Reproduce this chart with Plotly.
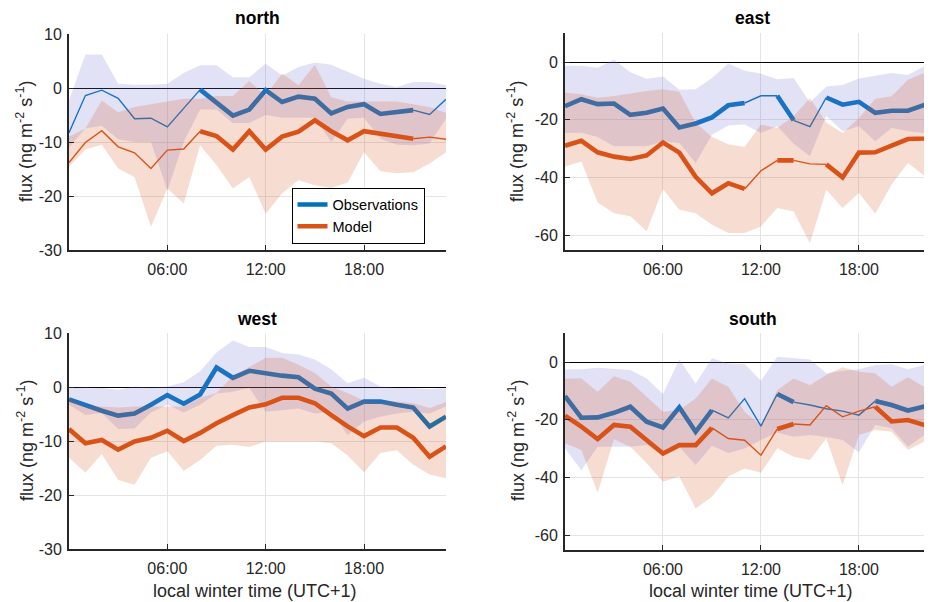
import plotly.graph_objects as go

hours = list(range(24))
tick_hours = [6, 12, 18]
tick_labels = ["06:00", "12:00", "18:00"]

# ---------------- north ----------------
north_obs = [-8.3, -1.4, -0.4, -1.9, -5.7, -5.6, -7.2, -3.8, -0.3, -2.7, -5.1, -4.0,
             -0.4, -2.6, -1.6, -2.0, -4.7, -3.5, -3.0, -4.8, -4.5, -4.1, -4.9, -2.1]
north_obs_hi = [-2.3, 6.2, 6.2, 0.8, 0.6, 0.6, 0.8, 2.8, 4.2, 4.2, 2.0, 2.0,
                4.5, 2.3, 3.9, 4.7, 4.3, 3.0, 1.7, 0.8, 0.2, 1.1, 1.1, 0.5]
north_obs_lo = [-11.0, -7.5, -7.0, -9.5, -10.0, -10.0, -19.0, -10.0, -4.0, -4.0, -6.5, -6.5,
                -5.0, -5.5, -5.5, -5.5, -10.0, -5.7, -5.5, -9.4, -10.5, -10.6, -10.3, -5.7]
north_mod = [-13.8, -10.1, -7.9, -10.9, -12.0, -14.9, -11.5, -11.3, -8.0, -8.9, -11.4, -8.0,
             -11.4, -9.0, -8.1, -6.0, -8.0, -9.7, -8.0, -8.5, -9.1, -9.4, -9.1, -9.5]
north_mod_hi = [-9.0, -7.5, -2.3, -4.5, -3.5, -3.0, -2.5, -2.0, -2.0, -1.5, -1.5, 1.3,
                -1.4, 2.7, 0.5, 4.3, -1.7, -2.5, -2.5, -2.5, -2.5, -3.0, -3.5, -4.6]
north_mod_lo = [-14.6, -11.4, -10.5, -14.9, -16.5, -25.7, -18.6, -21.4, -10.6, -14.3, -18.6, -16.5,
                -23.3, -19.5, -17.1, -18.0, -18.5, -17.5, -11.9, -15.4, -15.8, -15.6, -14.0, -11.9]
north_obs_bold = [0] * 8 + [1] * 13 + [0] * 2
north_mod_bold = [0] * 8 + [1] * 13 + [0] * 2

# ---------------- east ----------------
east_obs = [-15.3, -12.9, -14.6, -14.4, -18.3, -17.6, -16.1, -22.7, -21.3, -19.2, -15.0, -14.2,
            -11.7, -11.7, -20.2, -22.4, -12.3, -14.8, -13.8, -17.6, -16.9, -16.9, -14.9, -14.4]
east_obs_hi = [-1.3, -1.3, -2.0, 0.8, -3.5, -5.8, -5.0, -9.6, -9.4, -5.5, -0.5, -3.0,
               -4.0, -6.0, -5.5, -14.0, -8.5, -8.0, -5.7, -4.8, -3.8, -4.5, -1.5, -0.8]
east_obs_lo = [-24.6, -24.5, -26.0, -29.2, -29.2, -29.2, -27.5, -28.1, -35.0, -25.2, -22.0, -21.7,
               -24.6, -22.3, -28.3, -32.7, -18.6, -24.0, -22.3, -27.5, -22.9, -24.0, -24.6, -24.0]
east_mod = [-29.0, -27.3, -31.3, -32.8, -33.6, -32.4, -27.9, -31.4, -39.8, -45.5, -42.0, -44.0,
            -37.7, -34.1, -34.1, -35.3, -35.5, -40.0, -31.4, -31.3, -29.0, -26.7, -26.5, -25.6]
east_mod_hi = [-10.6, -11.2, -12.4, -11.8, -10.9, -10.0, -9.4, -10.3, -21.0, -26.0, -28.5, -29.5,
               -21.7, -22.9, -18.8, -12.5, -21.0, -24.6, -19.4, -12.7, -11.9, -6.1, -3.8, -3.0]
east_mod_lo = [-36.2, -34.5, -48.7, -52.4, -53.5, -58.7, -44.0, -51.2, -52.4, -56.4, -59.3, -59.3,
               -57.0, -50.6, -51.8, -62.8, -44.3, -50.6, -45.4, -52.6, -42.5, -35.0, -39.4, -36.0]
east_obs_bold = [1] * 11 + [0, 0] + [1] + [0, 0] + [1] * 7
east_mod_bold = [1] * 11 + [0, 0] + [1] + [0, 0] + [1] * 7

# ---------------- west ----------------
west_obs = [-2.3, -3.4, -4.4, -5.3, -4.9, -3.3, -1.5, -3.1, -1.4, 3.6, 1.7, 3.0,
            2.5, 2.1, 1.8, -0.3, -1.2, -4.0, -2.7, -2.7, -3.3, -3.8, -7.3, -5.5]
west_obs_hi = [-0.2, 0.0, -0.2, -0.5, 0.1, -0.1, 0.1, 0.9, 2.9, 6.4, 8.6, 7.4,
               7.4, 6.3, 6.0, 5.1, 3.3, 0.7, 1.7, 0.1, -0.2, -0.2, -0.4, -0.2]
west_obs_lo = [-3.3, -5.2, -4.8, -7.8, -7.7, -4.7, -3.3, -4.7, -3.3, -1.2, -0.9, -0.2,
               -4.6, -4.3, -4.0, -4.9, -4.6, -8.9, -6.4, -5.5, -4.9, -4.6, -4.9, -3.6]
west_mod = [-7.8, -10.4, -9.8, -11.6, -10.1, -9.4, -8.1, -10.0, -8.5, -6.7, -5.2, -3.8,
            -3.2, -2.0, -2.0, -3.0, -5.2, -7.3, -9.1, -7.5, -7.5, -9.4, -12.9, -11.0]
west_mod_hi = [-2.0, -3.6, -3.6, -3.8, -3.6, -3.6, -3.6, -3.6, -2.0, -1.1, 2.0, 3.7,
               5.4, 5.4, 4.1, 2.6, 0.1, -1.1, -2.5, -2.8, -2.7, -3.0, -3.9, -2.8]
west_mod_lo = [-13.1, -15.9, -12.4, -17.2, -18.1, -13.1, -11.9, -15.5, -13.5, -10.9, -10.7, -11.1,
               -10.1, -10.1, -10.1, -10.1, -10.4, -12.7, -15.8, -12.2, -11.7, -14.4, -16.2, -16.9]
west_obs_bold = [1] * 23
west_mod_bold = [1] * 23

# ---------------- south ----------------
south_obs = [-11.8, -19.3, -19.2, -17.6, -15.5, -20.7, -22.7, -15.7, -24.2, -16.7, -19.4, -12.7,
             -22.2, -11.1, -13.9, -14.9, -16.2, -17.0, -18.4, -13.5, -14.9, -16.8, -15.4, -14.8]
south_obs_hi = [-2.5, -2.5, -2.0, -2.3, -2.8, -5.7, -11.1, 0.9, -7.4, 1.3, -0.5, -0.7,
                -6.5, 1.8, 1.3, 0.9, -3.9, -3.0, -2.5, -1.0, -0.8, -2.5, -1.0, -1.5]
south_obs_lo = [-30.0, -37.5, -29.4, -29.4, -29.4, -28.8, -31.7, -29.4, -35.7, -29.0, -31.5, -30.0,
                -27.0, -24.4, -25.9, -25.3, -26.0, -27.0, -31.3, -21.8, -23.0, -29.4, -25.3, -25.0]
south_mod = [-18.6, -22.4, -26.7, -21.8, -22.4, -27.1, -31.7, -28.8, -28.8, -22.8, -26.5, -27.1,
             -32.3, -23.2, -21.5, -21.8, -15.1, -19.0, -17.0, -15.5, -20.6, -20.1, -21.8, -22.0]
south_mod_hi = [-5.7, -5.7, -10.3, -4.9, -6.8, -12.0, -17.2, -16.6, -12.6, -5.7, -8.6, -17.2,
                -22.0, -9.7, -5.7, -8.0, -4.5, -1.8, -3.4, -3.9, -8.6, -5.3, -8.6, -9.0]
south_mod_lo = [-28.2, -30.5, -45.3, -26.8, -29.4, -35.1, -41.5, -39.7, -50.8, -46.7, -39.7, -36.9,
                -38.4, -29.9, -32.8, -34.0, -26.5, -42.7, -25.3, -23.6, -24.2, -30.5, -27.6, -27.0]
south_obs_bold = [1] * 9 + [0] * 4 + [1] + [0] * 5 + [1] * 4
south_mod_bold = [1] * 9 + [0] * 4 + [1] + [0] * 5 + [1] * 4

BLUE = "#0072BD"
ORANGE = "#D95319"
BLUE_BAND = "rgba(118,118,216,0.21)"
ORANGE_BAND = "rgba(217,83,25,0.2)"
WIDTHS = {0: 1.4, 1: 4.6}
FONT = "Liberation Sans, Arial, sans-serif"
TXT = "#262626"

panels = [
    dict(xa="x", ya="y", obs=north_obs, obs_hi=north_obs_hi, obs_lo=north_obs_lo,
         mod=north_mod, mod_hi=north_mod_hi, mod_lo=north_mod_lo,
         obs_bold=north_obs_bold, mod_bold=north_mod_bold),
    dict(xa="x2", ya="y2", obs=east_obs, obs_hi=east_obs_hi, obs_lo=east_obs_lo,
         mod=east_mod, mod_hi=east_mod_hi, mod_lo=east_mod_lo,
         obs_bold=east_obs_bold, mod_bold=east_mod_bold),
    dict(xa="x3", ya="y3", obs=west_obs, obs_hi=west_obs_hi, obs_lo=west_obs_lo,
         mod=west_mod, mod_hi=west_mod_hi, mod_lo=west_mod_lo,
         obs_bold=west_obs_bold, mod_bold=west_mod_bold),
    dict(xa="x4", ya="y4", obs=south_obs, obs_hi=south_obs_hi, obs_lo=south_obs_lo,
         mod=south_mod, mod_hi=south_mod_hi, mod_lo=south_mod_lo,
         obs_bold=south_obs_bold, mod_bold=south_mod_bold),
]

fig = go.Figure()


def add_band(hi, lo, color, xa, ya):
    fig.add_trace(go.Scatter(x=hours + hours[::-1], y=hi + lo[::-1], fill="toself",
                             fillcolor=color, mode="lines", line=dict(width=0, color=color),
                             hoverinfo="skip", showlegend=False, xaxis=xa, yaxis=ya))


def add_line(vals, bold, color, xa, ya):
    start = 0
    n = len(bold)
    for i in range(1, n + 1):
        if i == n or bold[i] != bold[start]:
            fig.add_trace(go.Scatter(x=hours[start:i + 1], y=vals[start:i + 1], mode="lines",
                                     line=dict(color=color, width=WIDTHS[bold[start]]),
                                     showlegend=False, xaxis=xa, yaxis=ya))
            start = i


for p in panels:
    add_line(p["obs"], p["obs_bold"], BLUE, p["xa"], p["ya"])
    add_band(p["obs_hi"], p["obs_lo"], BLUE_BAND, p["xa"], p["ya"])
    add_band(p["mod_hi"], p["mod_lo"], ORANGE_BAND, p["xa"], p["ya"])
    add_line(p["mod"], p["mod_bold"], ORANGE, p["xa"], p["ya"])

# legend entries
fig.add_trace(go.Scatter(x=[None], y=[None], mode="lines", name="Observations",
                         line=dict(color=BLUE, width=4.6), xaxis="x", yaxis="y"))
fig.add_trace(go.Scatter(x=[None], y=[None], mode="lines", name="Model",
                         line=dict(color=ORANGE, width=4.6), xaxis="x", yaxis="y"))

# The page body has an 8px margin, so the figure is drawn 8px in from the
# window's top-left corner; size and place everything to compensate.
OFF = 8
W, H = 932 - OFF, 602 - OFF


def fx(px):
    return (px - OFF) / W


def fy(py):
    return 1 - (py - OFF) / H


left_dom = [fx(69), fx(446)]
right_dom = [fx(565), 1.0]
top_dom_n = [fy(250), fy(34)]
top_dom_e = [fy(249.5), fy(33.2)]
bot_dom_w = [fy(549), fy(333)]
bot_dom_s = [fy(549.5), fy(333.2)]

xcommon = dict(tickvals=tick_hours, ticktext=tick_labels, ticks="inside", ticklen=5,
               tickcolor=TXT, tickwidth=1, showline=True, linecolor=TXT, linewidth=2,
               showgrid=True, gridcolor="rgb(228,228,228)", gridwidth=1, zeroline=False,
               tickfont=dict(family=FONT, size=16, color=TXT), ticklabelstandoff=4,
               fixedrange=True, automargin=False)
ycommon = dict(ticks="inside", ticklen=5, tickcolor=TXT, tickwidth=1, showline=True,
               linecolor=TXT, linewidth=2, showgrid=True, gridcolor="rgb(228,228,228)",
               gridwidth=1, zeroline=True, zerolinecolor="black", zerolinewidth=1,
               tickfont=dict(family=FONT, size=16, color=TXT), ticklabelstandoff=2,
               fixedrange=True, automargin=False)

ticks_small = [10, 0, -10, -20, -30]
ticks_large = [0, -20, -40, -60]
right_range = [0, (932 - 565) / 16.33]

fig.update_layout(
    width=W, height=H, autosize=False,
    margin=dict(l=0, r=0, t=0, b=0, pad=0, autoexpand=False),
    paper_bgcolor="white", plot_bgcolor="white",
    font=dict(family=FONT, color=TXT),
    showlegend=True,
    legend=dict(x=fx(291.5), y=fy(187.5), xanchor="left", yanchor="top",
                bgcolor="white", bordercolor="black", borderwidth=1,
                font=dict(family=FONT, size=14.5, color="black"), itemwidth=30,
                tracegroupgap=0),
    xaxis=dict(domain=left_dom, range=[0, 23], anchor="y", **xcommon),
    yaxis=dict(domain=top_dom_n, range=[-30, 10], anchor="x", tickvals=ticks_small,
               ticktext=[str(v) for v in ticks_small], **ycommon),
    xaxis2=dict(domain=right_dom, range=right_range, anchor="y2", **xcommon),
    yaxis2=dict(domain=top_dom_e, range=[-65, 10], anchor="x2", tickvals=ticks_large,
                ticktext=[str(v) for v in ticks_large], **ycommon),
    xaxis3=dict(domain=left_dom, range=[0, 23], anchor="y3", **xcommon),
    yaxis3=dict(domain=bot_dom_w, range=[-30, 10], anchor="x3", tickvals=ticks_small,
                ticktext=[str(v) for v in ticks_small], **ycommon),
    xaxis4=dict(domain=right_dom, range=right_range, anchor="y4", **xcommon),
    yaxis4=dict(domain=bot_dom_s, range=[-65, 10], anchor="x4", tickvals=ticks_large,
                ticktext=[str(v) for v in ticks_large], **ycommon),
)

ylabel = "flux (ng m<sup>-2</sup> s<sup>-1</sup>)"
xlabel = "local winter time (UTC+1)"
annots = [
    (257.5, 18, "<b>north</b>", 17.5, 0, "black"),
    (752.5, 18, "<b>east</b>", 17.5, 0, "black"),
    (257.5, 319, "<b>west</b>", 17.5, 0, "black"),
    (752.5, 319, "<b>south</b>", 17.5, 0, "black"),
    (25, 142, ylabel, 18, -90, TXT),
    (516, 142, ylabel, 18, -90, TXT),
    (25, 441, ylabel, 18, -90, TXT),
    (516, 441, ylabel, 18, -90, TXT),
    (255, 591, xlabel, 18, 0, TXT),
    (751, 591, xlabel, 18, 0, TXT),
]
for (px, py, text, size, ang, col) in annots:
    fig.add_annotation(x=fx(px), y=fy(py), xref="paper", yref="paper", text=text,
                       showarrow=False, textangle=ang, xanchor="center", yanchor="middle",
                       font=dict(family=FONT, size=size, color=col))

fig.write_html("out.html")
